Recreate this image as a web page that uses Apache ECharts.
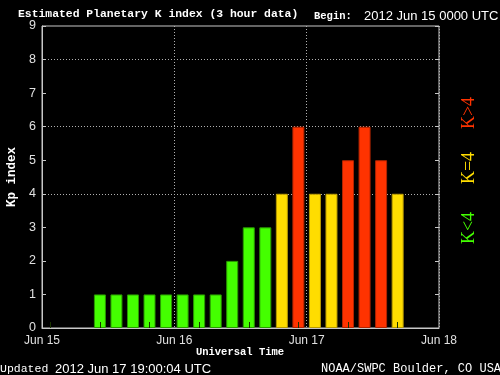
<!DOCTYPE html>
<html>
<head>
<meta charset="utf-8">
<script src="https://cdn.jsdelivr.net/npm/echarts@6/dist/echarts.min.js"></script>
<style>
html,body{margin:0;padding:0;background:#000;}
#chart{width:500px;height:375px;}
</style>
</head>
<body>
<div id="chart"></div>
<script>
// 3-hour slots from 2012 Jun 15 00:00 UTC to Jun 18 00:00 UTC
const slotLabels = ['15 00','15 03','15 06','15 09','15 12','15 15','15 18','15 21',
                    '16 00','16 03','16 06','16 09','16 12','16 15','16 18','16 21',
                    '17 00','17 03','17 06','17 09','17 12','17 15','17 18','17 21'];
const kpValues = [null,null,null,1,1,1,1,1,1,1,1,2,3,3,4,6,4,4,5,6,5,4,null,null];
const dayLabels = ['Jun 15','Jun 16','Jun 17','Jun 18'];
const yTickLabels = ['0','1','2','3','4','5','6','7','8','9'];
const gridLevels = [4,6,8];
const title = 'Estimated Planetary K index (3 hour data)';
const beginText = '2012 Jun 15 0000 UTC';
const updatedText = '2012 Jun 17 19:00:04 UTC';
const creditText = 'NOAA/SWPC Boulder, CO USA';

const GREEN = '#44ff00', YELLOW = '#ffdd00', RED = '#ff3300';
function colorFor(v){ return v < 4 ? GREEN : (v === 4 ? YELLOW : RED); }
function borderFor(v){ return v < 4 ? '#2a9a00' : (v === 4 ? '#b89a00' : '#b02400'); }

const splitColors = yTickLabels.map((t, i) => gridLevels.indexOf(i) >= 0 ? '#b0b0b0' : 'rgba(0,0,0,0)');

const chart = echarts.init(document.getElementById('chart'), null, {renderer:'canvas'});
const mono = '"Liberation Mono", "DejaVu Sans Mono", monospace';
const sans = '"Liberation Sans", Arial, sans-serif';
const serif = '"Liberation Serif", "DejaVu Serif", serif';

chart.setOption({
  backgroundColor: '#000',
  animation: false,
  grid: {left: 42, right: 61, top: 26, bottom: 47, containLabel: false, outerBoundsMode: 'none',
         show: true, borderColor: '#c8c8c8', borderWidth: 1, backgroundColor: 'rgba(0,0,0,0)'},
  xAxis: [
    {
      type: 'category', data: slotLabels, boundaryGap: true, z: 5,
      axisLine: {show: true, lineStyle: {color: '#c8c8c8', width: 1}},
      axisTick: {show: true, inside: true, alignWithLabel: true, length: 6, lineStyle: {color: '#1a3300', width: 1}},
      axisLabel: {show: false}, splitLine: {show: false}
    },
    {
      type: 'value', position: 'bottom', min: 0, max: 24, interval: 8,
      axisLine: {show: false}, axisTick: {show: false},
      axisLabel: {show: true, color: '#e0e0e0', fontFamily: sans, fontSize: 12, margin: 7,
                  formatter: v => dayLabels[Math.round(v / 8)]},
      splitLine: {show: true, lineStyle: {color: '#b0b0b0', type: [1, 2], width: 1}}
    }
  ],
  yAxis: [
    {
      type: 'value', min: 0, max: 9, interval: 1,
      name: 'Kp index', nameLocation: 'middle', nameGap: 21, nameRotate: 90,
      nameTextStyle: {color: '#ffffff', fontFamily: mono, fontWeight: 'bold', fontSize: 12.5},
      axisLine: {show: true, lineStyle: {color: '#c8c8c8'}},
      axisTick: {show: true, inside: true, length: 4, lineStyle: {color: '#c8c8c8'}},
      axisLabel: {color: '#e0e0e0', fontFamily: sans, fontSize: 12.5, margin: 6,
                  formatter: v => yTickLabels[v]},
      splitLine: {show: true, lineStyle: {color: splitColors, type: [1, 2], width: 1}}
    },
    {
      type: 'value', min: 0, max: 9, interval: 1, position: 'right',
      axisLine: {show: false},
      axisTick: {show: true, inside: true, length: 4, lineStyle: {color: '#c8c8c8'}},
      axisLabel: {show: false}, splitLine: {show: false}
    }
  ],
  series: [{
    type: 'bar', xAxisIndex: 0, yAxisIndex: 0, barWidth: 12,
    data: kpValues.map(v => v === null ? null : {
      value: v,
      itemStyle: {color: colorFor(v), borderColor: borderFor(v), borderWidth: 1}
    })
  }],
  graphic: [
    {type: 'text', x: 18, y: 14, style: {text: title, fill: '#fff', font: 'bold 11.4px ' + mono, textVerticalAlign: 'middle'}},
    {type: 'text', x: 314, y: 16, style: {text: 'Begin:', fill: '#fff', font: 'bold 10.5px ' + mono, textVerticalAlign: 'middle'}},
    {type: 'text', x: 364, y: 16, style: {text: beginText, fill: '#fff', font: '13px ' + sans, textVerticalAlign: 'middle'}},
    {type: 'text', x: 240, y: 352, style: {text: 'Universal Time', fill: '#fff', font: 'bold 10.5px ' + mono, textAlign: 'center', textVerticalAlign: 'middle'}},
    {type: 'text', x: 0, y: 369, style: {text: 'Updated', fill: '#fff', font: '11.5px ' + mono, textVerticalAlign: 'middle'}},
    {type: 'text', x: 55, y: 369, style: {text: updatedText, fill: '#fff', font: '13px ' + sans, textVerticalAlign: 'middle'}},
    {type: 'text', x: 321, y: 369, style: {text: creditText, fill: '#fff', font: '12px ' + mono, textVerticalAlign: 'middle'}},
    {type: 'text', x: 469, y: 228, rotation: Math.PI / 2, style: {text: 'K<4', fill: GREEN, font: '18px ' + serif, textAlign: 'center', textVerticalAlign: 'middle'}},
    {type: 'text', x: 469, y: 168, rotation: Math.PI / 2, style: {text: 'K=4', fill: YELLOW, font: '18px ' + serif, textAlign: 'center', textVerticalAlign: 'middle'}},
    {type: 'text', x: 469, y: 113, rotation: Math.PI / 2, style: {text: 'K>4', fill: RED, font: '18px ' + serif, textAlign: 'center', textVerticalAlign: 'middle'}}
  ]
});
</script>
</body>
</html>
